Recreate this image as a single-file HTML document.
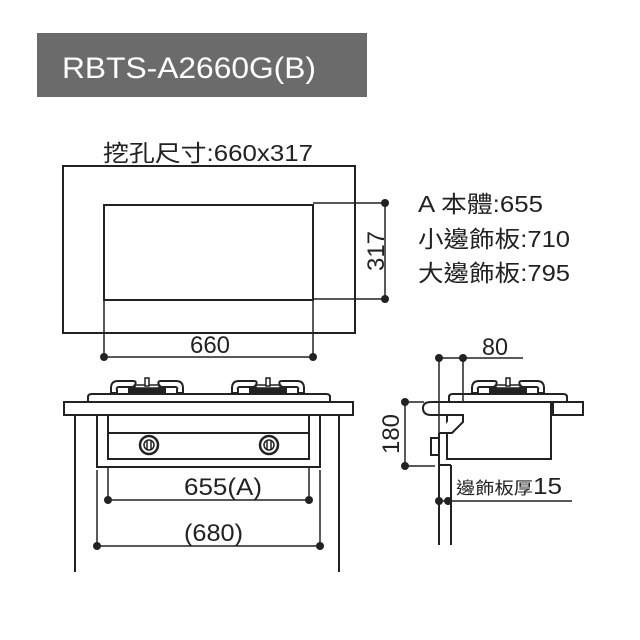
<!DOCTYPE html>
<html><head><meta charset="utf-8"><style>
html,body{margin:0;padding:0;background:#fff;}
svg{display:block;}
text{font-family:"Liberation Sans","Noto Sans CJK TC",sans-serif;fill:#222;}
</style></head><body>
<svg width="640" height="640" viewBox="0 0 640 640" xmlns="http://www.w3.org/2000/svg">
<defs>
<g id="burner">
  <path d="M-36,-5 Q-36,-12 -29,-12 L-14,-12 Q-10,-12 -12,-8 L-14,-6 L-28,-6 Q-31,-6 -30,-3 L-30,0 L-36,0 Z" fill="#fff" stroke="#222" stroke-width="2"/>
  <path d="M36,-5 Q36,-12 29,-12 L14,-12 Q10,-12 12,-8 L14,-6 L28,-6 Q31,-6 30,-3 L30,0 L36,0 Z" fill="#fff" stroke="#222" stroke-width="2"/>
  <rect x="-18" y="-6" width="36" height="6" fill="#222"/>
  <rect x="-12" y="-8" width="24" height="3" fill="#fff" stroke="#222" stroke-width="1.5"/>
  <rect x="-2" y="-15" width="4" height="8" fill="#fff" stroke="#222" stroke-width="1.5"/>
</g>
<g id="knob">
  <circle r="9" fill="#fff" stroke="#222" stroke-width="2.5"/>
  <circle r="5" fill="#fff" stroke="#222" stroke-width="1.5"/>
  <line x1="-2" y1="-5" x2="-2" y2="5" stroke="#222" stroke-width="1.5"/>
  <line x1="2" y1="-5" x2="2" y2="5" stroke="#222" stroke-width="1.5"/>
</g>
</defs>
<rect x="37" y="33" width="330" height="64" fill="#6b6b6b"/>
<text x="62" y="78" font-size="30" textLength="254" lengthAdjust="spacingAndGlyphs" style="fill:#fff">RBTS-A2660G(B)</text>

<text x="103" y="161" font-size="23" textLength="210" lengthAdjust="spacingAndGlyphs">挖孔尺寸:660x317</text>
<g fill="none" stroke="#222" stroke-width="2">
<rect x="63" y="166" width="292" height="167"/>
<rect x="104" y="205" width="209" height="95"/>
<line x1="313" y1="203" x2="385" y2="203" stroke-width="1.5"/>
<line x1="313" y1="299" x2="385" y2="299" stroke-width="1.5"/>
<line x1="385" y1="203" x2="385" y2="299" stroke-width="1.5"/>
<line x1="104" y1="300" x2="104" y2="357" stroke-width="1.5"/>
<line x1="313" y1="300" x2="313" y2="357" stroke-width="1.5"/>
<line x1="104" y1="357" x2="313" y2="357" stroke-width="1.5"/>
</g>
<g fill="#222">
<circle cx="385" cy="203" r="4"/><circle cx="385" cy="299" r="4"/>
<circle cx="104" cy="357" r="4"/><circle cx="313" cy="357" r="4"/>
</g>
<text x="0" y="0" font-size="24" transform="translate(384,251) rotate(-90)" text-anchor="middle">317</text>
<text x="210" y="353" font-size="24" text-anchor="middle">660</text>
<text x="418" y="212" font-size="23" textLength="125" lengthAdjust="spacingAndGlyphs">A 本體:655</text>
<text x="418" y="247" font-size="23" textLength="152" lengthAdjust="spacingAndGlyphs">小邊飾板:710</text>
<text x="418" y="281" font-size="23" textLength="152" lengthAdjust="spacingAndGlyphs">大邊飾板:795</text>

<!-- front view -->
<g fill="#fff" stroke="#222" stroke-width="2">
<use href="#burner" x="147" y="393"/>
<use href="#burner" x="268" y="393"/>
<path d="M88,402 L88,397 Q88,394 92,394 L326,394 Q330,394 330,397 L330,402 Z"/>
<rect x="64" y="402" width="289" height="13"/>
<rect x="97" y="415" width="223" height="52"/>
<rect x="108" y="415" width="201" height="44"/>
<line x1="108" y1="433" x2="309" y2="433"/>
<line x1="75" y1="415" x2="75" y2="572"/>
<line x1="339" y1="415" x2="339" y2="572"/>
</g>
<use href="#knob" x="149" y="445"/>
<use href="#knob" x="269" y="445"/>
<g stroke="#222" stroke-width="1.5">
<line x1="108" y1="467" x2="108" y2="500"/><line x1="309" y1="467" x2="309" y2="500"/>
<line x1="108" y1="500" x2="309" y2="500"/>
<line x1="97" y1="470" x2="97" y2="546"/><line x1="320" y1="470" x2="320" y2="546"/>
<line x1="97" y1="546" x2="320" y2="546"/>
</g>
<g fill="#222"><circle cx="108" cy="500" r="4"/><circle cx="309" cy="500" r="4"/><circle cx="97" cy="546" r="4"/><circle cx="320" cy="546" r="4"/></g>
<text x="184" y="495" font-size="24" textLength="78" lengthAdjust="spacingAndGlyphs">655(A)</text>
<text x="184" y="541" font-size="24" textLength="59" lengthAdjust="spacingAndGlyphs">(680)</text>

<!-- side view -->
<g fill="#fff" stroke="#222" stroke-width="2">
<use href="#burner" x="508" y="393"/>
<path d="M449,402 L449,397 Q449,394 453,394 L563,394 Q567,394 567,397 L567,402 Z"/>
<rect x="447" y="402" width="104" height="57"/>
<rect x="553" y="402" width="30" height="13"/>
<path d="M463,402 L431,402 Q423,402 423,408 Q423,415 431,415 L463,415 L463,422 L452,433 L439,433"/>
<rect x="431" y="438" width="8" height="17"/>
<line x1="439" y1="433" x2="439" y2="545"/>
<line x1="451" y1="465" x2="451" y2="545"/>
<line x1="439" y1="465" x2="451" y2="465"/>
</g>
<g stroke="#222" stroke-width="1.5">
<line x1="439" y1="358" x2="523" y2="358"/>
<line x1="439" y1="358" x2="439" y2="433"/>
<line x1="463" y1="358" x2="463" y2="402"/>
<line x1="405" y1="402" x2="424" y2="402"/>
<line x1="405" y1="466" x2="435" y2="466"/>
<line x1="405" y1="402" x2="405" y2="466"/>
<line x1="439" y1="501" x2="572" y2="501"/>
</g>
<g fill="#222"><circle cx="439" cy="358" r="4"/><circle cx="463" cy="358" r="4"/><circle cx="405" cy="402" r="4"/><circle cx="405" cy="466" r="4"/><circle cx="439" cy="501" r="4"/><circle cx="448" cy="501" r="4"/></g>
<text x="482" y="355" font-size="24" textLength="26" lengthAdjust="spacingAndGlyphs">80</text>
<text x="0" y="0" font-size="24" transform="translate(399,434) rotate(-90)" text-anchor="middle">180</text>
<text x="456" y="494" font-size="17" textLength="106" lengthAdjust="spacingAndGlyphs">邊飾板厚<tspan font-size="23">15</tspan></text>
</svg>
</body></html>
